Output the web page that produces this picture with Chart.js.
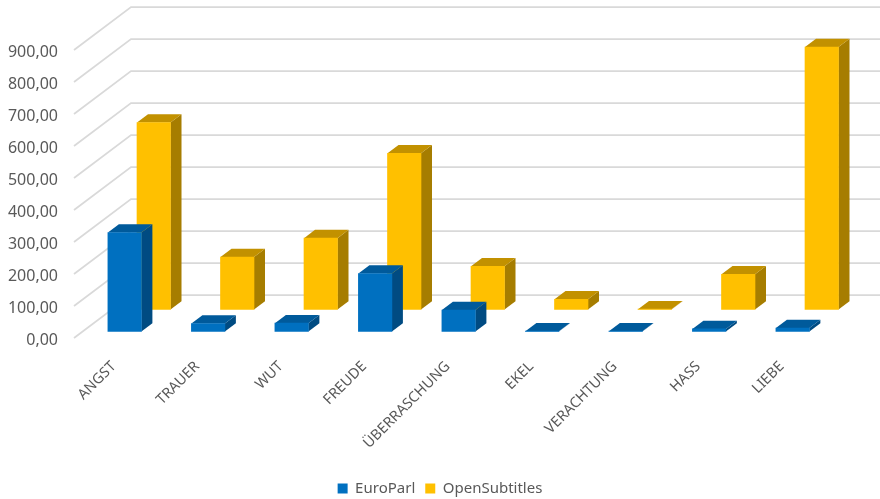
<!DOCTYPE html>
<html>
<head>
<meta charset="utf-8">
<style>
  html, body { margin: 0; padding: 0; background: #fff; }
  canvas { display: block; }
</style>
</head>
<body>
<canvas id="chart" width="880" height="499"></canvas>
<script src="https://cdn.jsdelivr.net/npm/chart.js@4"></script>
<script>
// Values
const categories = ['ANGST', 'TRAUER', 'WUT', 'FREUDE', 'ÜBERRASCHUNG', 'EKEL', 'VERACHTUNG', 'HASS', 'LIEBE'];
const euroParl = [309, 25, 26, 181, 67, 1, 1, 8, 11];
const openSubtitles = [584, 164, 223, 488, 135, 32, 1, 110, 820];
const yTickLabels = ['0,00', '100,00', '200,00', '300,00', '400,00', '500,00', '600,00', '700,00', '800,00', '900,00'];

const textColor = '#595959';
const fontFamily = '"Noto Sans", sans-serif';

// fake 3D: each dataset has a shift into the room, a side colour and a top colour
const planes = [
  { dx: 8.9, dy: -6.5, side: '#004b82', top: '#005a9b' },
  { dx: 38, dy: -28.5, side: '#a67d00', top: '#c29100' },
];
const barDepth = { x: 11, y: -8.3 };
const wallDepth = { x: 57, y: -43 };

const wallPlugin = {
  id: 'wall',
  beforeDatasetsDraw(chart) {
    const { ctx, scales, chartArea } = chart;
    ctx.save();
    ctx.strokeStyle = '#d9d9d9';
    ctx.lineWidth = 1.75;
    scales.y.ticks.forEach((tick) => {
      const y = scales.y.getPixelForValue(tick.value);
      ctx.beginPath();
      ctx.moveTo(chartArea.left, y);
      ctx.lineTo(chartArea.left + wallDepth.x, y + wallDepth.y);
      ctx.lineTo(chart.width, y + wallDepth.y);
      ctx.stroke();
    });
    ctx.restore();
  },
};

const depthPlugin = {
  id: 'depth',
  beforeDatasetDraw(chart, args) {
    const { ctx } = chart;
    const plane = planes[args.index];
    ctx.save();
    ctx.translate(plane.dx, plane.dy);
    args.meta.data.forEach((bar) => {
      const p = bar.getProps(['x', 'y', 'base', 'width'], true);
      const r = p.x + p.width / 2;
      const l = p.x - p.width / 2;
      // side face
      ctx.fillStyle = plane.side;
      ctx.beginPath();
      ctx.moveTo(r, p.y);
      ctx.lineTo(r + barDepth.x, p.y + barDepth.y);
      ctx.lineTo(r + barDepth.x, p.base + barDepth.y);
      ctx.lineTo(r, p.base);
      ctx.closePath();
      ctx.fill();
      // top face
      ctx.fillStyle = plane.top;
      ctx.beginPath();
      ctx.moveTo(l, p.y);
      ctx.lineTo(l + barDepth.x, p.y + barDepth.y);
      ctx.lineTo(r + barDepth.x, p.y + barDepth.y);
      ctx.lineTo(r, p.y);
      ctx.closePath();
      ctx.fill();
    });
  },
  afterDatasetDraw(chart) {
    chart.ctx.restore();
  },
};

new Chart(document.getElementById('chart'), {
  type: 'bar',
  data: {
    labels: categories,
    datasets: [
      { label: 'EuroParl', data: euroParl, backgroundColor: '#0070c0', clip: false },
      { label: 'OpenSubtitles', data: openSubtitles, backgroundColor: '#ffc000', clip: false },
    ],
  },
  options: {
    responsive: false,
    animation: false,
    devicePixelRatio: 1,
    layout: { padding: { top: 50, bottom: -7, left: 0, right: 0 } },
    datasets: { bar: { grouped: false, barThickness: 33.5, borderWidth: 0 } },
    scales: {
      x: {
        grid: { display: false },
        border: { display: false },
        ticks: {
          color: textColor,
          font: { family: fontFamily, size: 14.5 },
          minRotation: 45,
          maxRotation: 45,
          padding: 12,
          labelOffset: -2,
          autoSkip: false,
        },
        afterFit(scale) { scale.height = 133; },
      },
      y: {
        min: 0,
        max: 900,
        grid: { display: false },
        border: { display: false },
        ticks: {
          stepSize: 100,
          color: textColor,
          padding: 8,
          labelOffset: 2,
          font: { family: fontFamily, size: 16 },
          callback: (value, index) => yTickLabels[index],
        },
        afterFit(scale) { scale.width = 74; },
      },
      // empty axis, only keeps room for the wall on the right
      spacer: {
        position: 'right',
        grid: { display: false },
        border: { display: false },
        ticks: { display: false },
        afterFit(scale) { scale.width = 54.5; },
      },
    },
    plugins: {
      legend: {
        position: 'bottom',
        labels: {
          color: textColor,
          boxWidth: 10,
          boxHeight: 10,
          padding: 10,
          font: { family: fontFamily, size: 15 },
        },
      },
      tooltip: { enabled: false },
    },
  },
  plugins: [wallPlugin, depthPlugin],
});
</script>
</body>
</html>
